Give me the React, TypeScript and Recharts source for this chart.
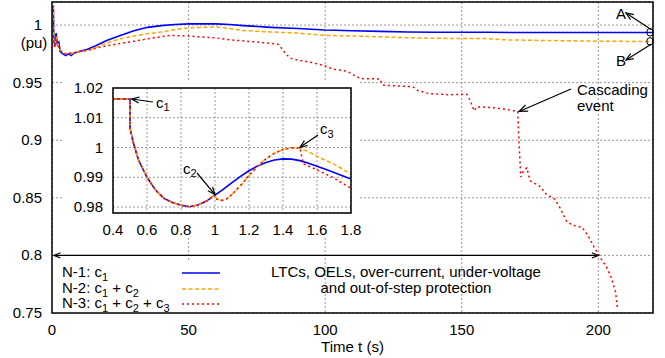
import React from "react";
import { LineChart, Line, XAxis, YAxis, CartesianGrid } from "recharts";

const FONT = '"Liberation Sans", Arial, Helvetica, sans-serif';

// ---- main plot: bus voltage over 220 s ----
const n1Time = [0, 0.5, 0.6, 1, 1.5, 2, 2.5, 3, 4, 5, 6, 7, 8, 10, 13, 16, 20, 25, 30, 35, 40, 45, 50, 55, 60, 65, 70, 80, 90, 100, 110, 120, 130, 140, 150, 160, 170, 180, 190, 200, 210, 220];
const n1Volt = [1.016, 1.016, 0.99, 0.982, 0.993, 0.983, 0.985, 0.977, 0.975, 0.9735, 0.975, 0.9735, 0.9755, 0.977, 0.979, 0.982, 0.9865, 0.991, 0.995, 0.998, 0.9995, 1.0005, 1.001, 1.001, 1.001, 1.0005, 0.9995, 0.998, 0.997, 0.9957, 0.995, 0.9945, 0.994, 0.9938, 0.9937, 0.9937, 0.9935, 0.9935, 0.9935, 0.9935, 0.9935, 0.9935];

const n2Time = [0, 0.5, 0.6, 1, 1.5, 2, 2.5, 3, 4, 5, 6, 7, 8, 10, 13, 16, 20, 25, 30, 35, 40, 45, 50, 55, 60, 65, 70, 80, 90, 100, 110, 120, 130, 140, 150, 160, 165, 170, 180, 190, 200, 210, 220];
const n2Volt = [1.016, 1.016, 0.988, 0.981, 0.99, 0.984, 0.982, 0.978, 0.976, 0.975, 0.9755, 0.975, 0.976, 0.977, 0.978, 0.9805, 0.9845, 0.988, 0.9905, 0.9925, 0.994, 0.996, 0.9975, 0.998, 0.9983, 0.997, 0.9952, 0.994, 0.993, 0.991, 0.9905, 0.9898, 0.989, 0.9885, 0.9883, 0.9882, 0.9872, 0.987, 0.9866, 0.9863, 0.986, 0.9858, 0.9858];

const n3Time = [0, 0.5, 0.6, 1, 1.5, 2, 2.5, 3, 4, 5, 6, 7, 8, 10, 13, 17, 20, 25, 30, 35, 40, 43, 50, 54, 60, 66, 72, 78, 83, 85, 87, 89.5, 95, 100, 103, 108, 111, 113, 120, 121, 127, 132, 134, 138, 145, 151.8, 153, 154.5, 155.5, 160, 165, 170.5, 170.9, 171.6, 172.5, 173.8, 175, 178.6, 181, 184, 186, 188.5, 191, 194, 196, 198.5, 201, 203, 205, 206.3, 207];
const n3Volt = [1.016, 1.016, 0.986, 0.98, 0.988, 0.982, 0.981, 0.978, 0.976, 0.975, 0.975, 0.976, 0.976, 0.977, 0.978, 0.9805, 0.982, 0.984, 0.986, 0.988, 0.9898, 0.991, 0.9905, 0.9898, 0.9888, 0.987, 0.9858, 0.9846, 0.9832, 0.9767, 0.9715, 0.9698, 0.9675, 0.9645, 0.9616, 0.96, 0.9558, 0.9535, 0.9532, 0.9478, 0.947, 0.9465, 0.943, 0.9405, 0.9395, 0.94, 0.935, 0.9255, 0.929, 0.9285, 0.9272, 0.925, 0.9, 0.868, 0.873, 0.876, 0.865, 0.86, 0.853, 0.849, 0.841, 0.829, 0.826, 0.8245, 0.818, 0.807, 0.797, 0.79, 0.779, 0.768, 0.754];

const mainXTicks = [0, 50, 100, 150, 200];
const mainYTicks = [0.75, 0.8, 0.85, 0.9, 0.95, 1];

// ---- inset: first 1.8 s ----
const in1Time = [0.4, 0.5, 0.5, 0.52, 0.55, 0.6, 0.65, 0.7, 0.75, 0.8, 0.85, 0.9, 0.95, 1.0, 1.05, 1.1, 1.15, 1.2, 1.25, 1.3, 1.35, 1.4, 1.45, 1.5, 1.55, 1.6, 1.65, 1.7, 1.75, 1.8];
const in1Volt = [1.0163, 1.0163, 1.0065, 1.0015, 0.9958, 0.99, 0.9857, 0.9829, 0.9815, 0.9806, 0.9801, 0.9807, 0.982, 0.984, 0.986, 0.9882, 0.9903, 0.9922, 0.9938, 0.995, 0.9958, 0.9962, 0.9961, 0.9956, 0.9947, 0.9937, 0.9927, 0.9916, 0.9905, 0.9894];

const in2Time = [0.4, 0.5, 0.5, 0.52, 0.55, 0.6, 0.65, 0.7, 0.75, 0.8, 0.85, 0.9, 0.95, 1.0, 1.01, 1.04, 1.07, 1.1, 1.15, 1.2, 1.25, 1.3, 1.35, 1.4, 1.45, 1.5, 1.55, 1.6, 1.65, 1.7, 1.75, 1.8];
const in2Volt = [1.0163, 1.0163, 1.0065, 1.0015, 0.9958, 0.99, 0.9857, 0.9829, 0.9815, 0.9806, 0.9801, 0.9807, 0.982, 0.984, 0.9827, 0.9822, 0.9828, 0.9843, 0.9872, 0.9906, 0.9937, 0.9962, 0.9981, 0.9993, 0.9999, 0.9998, 0.9986, 0.997, 0.9957, 0.9944, 0.9928, 0.991];

const in3Time = [0.4, 0.5, 0.5, 0.52, 0.55, 0.6, 0.65, 0.7, 0.75, 0.8, 0.85, 0.9, 0.95, 1.0, 1.01, 1.04, 1.07, 1.1, 1.15, 1.2, 1.25, 1.3, 1.35, 1.4, 1.45, 1.5, 1.51, 1.52, 1.55, 1.6, 1.65, 1.7, 1.75, 1.8];
const in3Volt = [1.0163, 1.0163, 1.0065, 1.0015, 0.9958, 0.99, 0.9857, 0.9829, 0.9815, 0.9806, 0.9801, 0.9807, 0.982, 0.984, 0.9827, 0.9822, 0.9828, 0.9843, 0.9872, 0.9906, 0.9937, 0.9962, 0.9981, 0.9993, 0.9999, 0.9998, 0.997, 0.9945, 0.9938, 0.9925, 0.9911, 0.9897, 0.988, 0.9863];

const insetXTicks = [0.4, 0.6, 0.8, 1, 1.2, 1.4, 1.6, 1.8];
const insetYTicks = [0.98, 0.99, 1, 1.01, 1.02];

const zip = (t: number[], v: number[]) => t.map((x, i) => ({ t: x, v: v[i] }));

// geometry
const W = 665;
const H = 358;
const MAIN = { left: 52, right: 653, top: 2, bottom: 313, x: [0, 220], y: [0.75, 1.02] };
// white patch behind the inset (hides the main grid)
const INSET_BG = { left: 62, top: 82, width: 296, height: 154 };
// inset chart surface (bigger than the patch so tick labels are not clipped)
const INSET_SVG = { left: 62, top: 70, width: 312, height: 176 };
const INSET = { left: 113, right: 351, top: 88, bottom: 213, x: [0.4, 1.8], y: [0.978, 1.02] };

const mx = (t: number) => MAIN.left + ((t - MAIN.x[0]) / (MAIN.x[1] - MAIN.x[0])) * (MAIN.right - MAIN.left);
const my = (v: number) => MAIN.bottom - ((v - MAIN.y[0]) / (MAIN.y[1] - MAIN.y[0])) * (MAIN.bottom - MAIN.top);
const ix = (t: number) => INSET.left + ((t - INSET.x[0]) / (INSET.x[1] - INSET.x[0])) * (INSET.right - INSET.left);
const iy = (v: number) => INSET.bottom - ((v - INSET.y[0]) / (INSET.y[1] - INSET.y[0])) * (INSET.bottom - INSET.top);

const BLUE = "#0000ff";
const ORANGE = "#ffa500";
const RED = "#ff0000";

const XTick = ({ x, y, payload }: any) => (
  <text x={x} y={y + 22} textAnchor="middle" fontSize={15} fontFamily={FONT} fill="#000">
    {String(payload.value)}
  </text>
);

const MainYTick = ({ x, y, payload }: any) => (
  <g>
    <text x={x - 10} y={y + 5} textAnchor="end" fontSize={15} fontFamily={FONT} fill="#000">
      {String(payload.value)}
    </text>
    {payload.value === 1 && (
      <text x={34} y={y + 23} textAnchor="middle" fontSize={15} fontFamily={FONT} fill="#000">
        (pu)
      </text>
    )}
  </g>
);

const InsetYTick = ({ x, y, payload }: any) => (
  <text x={x - 10} y={y + 5} textAnchor="end" fontSize={15} fontFamily={FONT} fill="#000">
    {String(payload.value)}
  </text>
);

const Arrow = ({ x1, y1, x2, y2, head = 8 }: any) => {
  const a = Math.atan2(y2 - y1, x2 - x1);
  const s = 0.38;
  const p1 = `${x2 - head * Math.cos(a - s)},${y2 - head * Math.sin(a - s)}`;
  const p2 = `${x2 - head * Math.cos(a + s)},${y2 - head * Math.sin(a + s)}`;
  return (
    <g stroke="#000" strokeWidth={1.2} fill="none">
      <line x1={x1} y1={y1} x2={x2} y2={y2} />
      <polyline points={`${p1} ${x2},${y2} ${p2}`} />
    </g>
  );
};

// text with subscripts: parts = [["N-1: c", "1"], ...]
const SubText = ({ x, y, parts, anchor = "start" }: any) => (
  <text x={x} y={y} fontSize={15} fontFamily={FONT} fill="#000" textAnchor={anchor}>
    {parts.map((p: [string, string], i: number) => (
      <React.Fragment key={i}>
        <tspan dy={i === 0 ? 0 : -3.5} fontSize={15}>{p[0]}</tspan>
        <tspan dy={3.5} fontSize={11}>{p[1]}</tspan>
      </React.Fragment>
    ))}
  </text>
);

function MainChart() {
  return (
    <LineChart width={W} height={H} margin={{ top: MAIN.top, right: W - MAIN.right, bottom: 0, left: 0 }}>
      <CartesianGrid stroke="#999" strokeDasharray="2 2" />
      <XAxis
        type="number"
        dataKey="t"
        domain={MAIN.x}
        allowDataOverflow
        ticks={mainXTicks}
        interval={0}
        height={H - MAIN.bottom}
        axisLine={false}
        tickLine={false}
        tickSize={0}
        tickMargin={0}
        tick={<XTick />}
      />
      <YAxis
        type="number"
        dataKey="v"
        domain={MAIN.y}
        allowDataOverflow
        ticks={mainYTicks}
        interval={0}
        width={MAIN.left}
        axisLine={false}
        tickLine={false}
        tickSize={0}
        tickMargin={0}
        tick={<MainYTick />}
      />
      <Line data={zip(n1Time, n1Volt)} dataKey="v" type="linear" stroke={BLUE} strokeWidth={1.6} dot={false} isAnimationActive={false} />
      <Line data={zip(n2Time, n2Volt)} dataKey="v" type="linear" stroke={ORANGE} strokeWidth={1.5} strokeDasharray="4 2.5" dot={false} isAnimationActive={false} />
      <Line data={zip(n3Time, n3Volt)} dataKey="v" type="linear" stroke={RED} strokeWidth={1.5} strokeDasharray="2 3" dot={false} isAnimationActive={false} />
    </LineChart>
  );
}

function InsetChart() {
  const s = INSET_SVG;
  return (
    <>
      <div style={{ position: "absolute", ...INSET_BG, background: "#fff" }} />
      <div style={{ position: "absolute", left: s.left, top: s.top, width: s.width, height: s.height }}>
        <LineChart
          width={s.width}
          height={s.height}
          margin={{ top: INSET.top - s.top, right: s.left + s.width - INSET.right, bottom: s.top + s.height - (INSET_BG.top + INSET_BG.height), left: 0 }}
        >
          <CartesianGrid stroke="#999" strokeDasharray="2 2" />
          <XAxis
            type="number"
            dataKey="t"
            domain={INSET.x}
            allowDataOverflow
            ticks={insetXTicks}
            interval={0}
            height={INSET_BG.top + INSET_BG.height - INSET.bottom}
            axisLine={false}
            tickLine={false}
            tickSize={0}
            tickMargin={0}
            tick={<XTick />}
          />
          <YAxis
            type="number"
            dataKey="v"
            domain={INSET.y}
            allowDataOverflow
            ticks={insetYTicks}
            interval={0}
            width={INSET.left - s.left}
            axisLine={false}
            tickLine={false}
            tickSize={0}
            tickMargin={0}
            tick={<InsetYTick />}
          />
          <Line data={zip(in1Time, in1Volt)} dataKey="v" type="linear" stroke={BLUE} strokeWidth={1.6} dot={false} isAnimationActive={false} />
          <Line data={zip(in2Time, in2Volt)} dataKey="v" type="linear" stroke={ORANGE} strokeWidth={1.5} strokeDasharray="4 2.5" dot={false} isAnimationActive={false} />
          <Line data={zip(in3Time, in3Volt)} dataKey="v" type="linear" stroke={RED} strokeWidth={1.5} strokeDasharray="2 3" dot={false} isAnimationActive={false} />
        </LineChart>
      </div>
    </>
  );
}

function Overlay() {
  const t15 = { fontSize: 15, fontFamily: FONT, fill: "#000" };
  return (
    <svg width={W} height={H} style={{ position: "absolute", left: 0, top: 0, pointerEvents: "none" }}>
      {/* key box */}
      <rect x={MAIN.left} y={262} width={178} height={MAIN.bottom - 262} fill="#fff" />
      <SubText x={62} y={277} parts={[["N-1: c", "1"]]} />
      <SubText x={62} y={293} parts={[["N-2: c", "1"], [" + c", "2"]]} />
      <SubText x={62} y={308} parts={[["N-3: c", "1"], [" + c", "2"], [" + c", "3"]]} />
      <line x1={182} x2={220} y1={273} y2={273} stroke={BLUE} strokeWidth={1.6} />
      <line x1={182} x2={220} y1={289} y2={289} stroke={ORANGE} strokeWidth={1.5} strokeDasharray="4 2.5" />
      <line x1={182} x2={220} y1={304} y2={304} stroke={RED} strokeWidth={1.5} strokeDasharray="2 3" />

      {/* protection span */}
      <Arrow x1={mx(100)} y1={my(0.8)} x2={mx(0) + 2} y2={my(0.8)} head={7} />
      <Arrow x1={mx(100)} y1={my(0.8)} x2={mx(200)} y2={my(0.8)} head={7} />
      <text x={406} y={277} textAnchor="middle" {...t15}>LTCs, OELs, over-current, under-voltage</text>
      <text x={406} y={293} textAnchor="middle" {...t15}>and out-of-step protection</text>

      {/* A / B markers */}
      <ellipse cx={mx(218.9)} cy={my(0.9937)} rx={3.2} ry={3.8} fill="none" stroke="#000" strokeWidth={1} />
      <ellipse cx={mx(218.9)} cy={my(0.9858)} rx={3.2} ry={3.8} fill="none" stroke="#000" strokeWidth={1} />
      <Arrow x1={mx(218.9) + 1.5} y1={my(0.9937) - 2.5} x2={626} y2={13} head={8} />
      <Arrow x1={mx(218.9) + 1.5} y1={my(0.9858) + 2.5} x2={626} y2={60} head={8} />
      <text x={621} y={18.5} textAnchor="middle" {...t15}>A</text>
      <text x={621} y={65.5} textAnchor="middle" {...t15}>B</text>

      {/* cascading event */}
      <Arrow x1={571} y1={89} x2={mx(171)} y2={my(0.925)} head={9} />
      <text x={577} y={95} {...t15}>Cascading</text>
      <text x={577} y={111} {...t15}>event</text>

      {/* inset annotations */}
      <rect x={INSET.left} y={INSET.top} width={INSET.right - INSET.left} height={INSET.bottom - INSET.top} fill="none" stroke="#000" strokeWidth={1.5} />
      <Arrow x1={153} y1={102} x2={ix(0.51)} y2={iy(1.0163)} head={8} />
      <SubText x={156} y={107.5} parts={[["c", "1"]]} />
      <Arrow x1={197} y1={173} x2={ix(1.0)} y2={iy(0.9842)} head={8} />
      <SubText x={183} y={173.5} parts={[["c", "2"]]} />
      <Arrow x1={318} y1={135} x2={ix(1.5)} y2={iy(1.0001)} head={8} />
      <SubText x={320} y={134} parts={[["c", "3"]]} />

      {/* main frame */}
      <rect x={MAIN.left} y={MAIN.top} width={MAIN.right - MAIN.left} height={MAIN.bottom - MAIN.top} fill="none" stroke="#000" strokeWidth={1.5} />
      <text x={(MAIN.left + MAIN.right) / 2} y={352} textAnchor="middle" {...t15}>Time t (s)</text>
    </svg>
  );
}

export default function App() {
  return (
    <div style={{ position: "absolute", left: 0, top: 0, width: W, height: H, background: "#fff", overflow: "hidden" }}>
      <MainChart />
      <InsetChart />
      <Overlay />
    </div>
  );
}
